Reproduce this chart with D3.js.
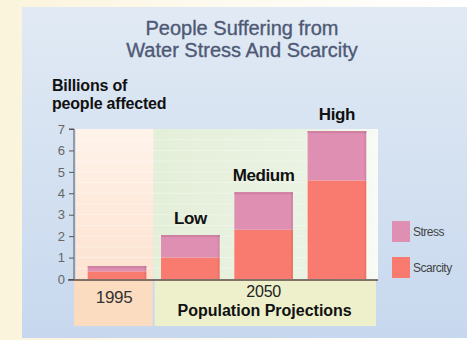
<!DOCTYPE html>
<html><head><meta charset="utf-8">
<script src="https://cdn.jsdelivr.net/npm/d3@7"></script>
<style>
html,body{margin:0;padding:0;background:#fdfaf0;}
svg{display:block;font-family:"Liberation Sans",Arial,sans-serif;}
</style></head>
<body>
<svg id="c" width="467" height="340"></svg>
<script>
const categories = ["1995", "Low", "Medium", "High"];
const scarcity = [0.35, 1.0, 2.3, 4.6];
const stress = [0.25, 1.05, 1.75, 2.3];
const barLabels = ["", "Low", "Medium", "High"];
const yTicks = [0, 1, 2, 3, 4, 5, 6, 7];
const seriesNames = ["Stress", "Scarcity"];
const titleLines = ["People Suffering from", "Water Stress And Scarcity"];
const yTitleLines = ["Billions of", "people affected"];

(function(){
const svg = d3.select("#c");
const defs = svg.append("defs");

function vgrad(id, stops) {
  const g = defs.append("linearGradient").attr("id", id).attr("x1", 0).attr("y1", 0).attr("x2", 0).attr("y2", 1);
  stops.forEach(s => g.append("stop").attr("offset", s[0]).attr("stop-color", s[1]));
}
function hgrad(id, stops) {
  const g = defs.append("linearGradient").attr("id", id).attr("x1", 0).attr("y1", 0).attr("x2", 1).attr("y2", 0);
  stops.forEach(s => g.append("stop").attr("offset", s[0]).attr("stop-color", s[1]));
}
hgrad("page", [[0, "#fbf4dc"], [0.5, "#fdfaf0"], [1, "#ffffff"]]);
vgrad("panel", [[0, "#e1eaf4"], [1, "#c7d8ee"]]);
vgrad("peach", [[0, "#fff3ea"], [1, "#fde2d0"]]);
hgrad("green", [[0, "#e4efd9"], [0.75, "#ebf3e4"], [1, "#f8fbf6"]]);

svg.append("rect").attr("width", 467).attr("height", 340).attr("fill", "url(#page)");
svg.append("rect").attr("x", 22).attr("y", 7).attr("width", 445).attr("height", 331).attr("fill", "url(#panel)");

const pLeft = 76, pRight = 378, pTop = 129, pBottom = 279;
const x = d3.scaleBand().domain(categories).range([pLeft, pRight]).paddingInner(0.2).paddingOuter(0.16);
const y = d3.scaleLinear().domain([0, 7]).range([pBottom, pTop]);

const split = x("Low") - x.step() * x.paddingInner() / 2;

svg.append("rect").attr("x", pLeft).attr("y", pTop).attr("width", split - pLeft).attr("height", pBottom - pTop + 1).attr("fill", "url(#peach)");
svg.append("rect").attr("x", split).attr("y", pTop).attr("width", pRight - split).attr("height", pBottom - pTop + 1).attr("fill", "url(#green)");
svg.append("rect").attr("x", 74).attr("y", 280).attr("width", split - 1 - 74).attr("height", 46).attr("fill", "#fcdcc0");
svg.append("rect").attr("x", split + 1).attr("y", 280).attr("width", 376 - split - 1).attr("height", 46).attr("fill", "#eef0cc");

svg.append("g").selectAll("line").data(d3.range(0.5, 7, 0.5)).join("line")
  .attr("x1", pLeft).attr("x2", pRight).attr("y1", d => y(d)).attr("y2", d => y(d))
  .attr("stroke", "#ffffff").attr("stroke-opacity", 0.35).attr("stroke-width", 1);

const stacked = categories.map((c, i) => ({c, s0: 0, s1: scarcity[i], t0: scarcity[i], t1: scarcity[i] + stress[i]}));
const colorStress = "#df8fb1", colorScar = "#f97b6f";
const bars = svg.append("g");
bars.selectAll(".scar").data(stacked).join("rect")
  .attr("x", d => x(d.c)).attr("width", x.bandwidth())
  .attr("y", d => y(d.s1)).attr("height", d => y(d.s0) - y(d.s1)).attr("fill", colorScar);
bars.selectAll(".str").data(stacked).join("rect")
  .attr("x", d => x(d.c)).attr("width", x.bandwidth())
  .attr("y", d => y(d.t1)).attr("height", d => y(d.t0) - y(d.t1)).attr("fill", colorStress);
bars.selectAll(".edge").data(stacked).join("rect")
  .attr("x", d => x(d.c)).attr("width", x.bandwidth())
  .attr("y", d => y(d.t1)).attr("height", 2).attr("fill", "#cf7fa2");
bars.selectAll(".redge").data(stacked).join("rect")
  .attr("x", d => x(d.c) + x.bandwidth() - 2).attr("width", 2)
  .attr("y", d => y(d.t1)).attr("height", d => y(0) - y(d.t1)).attr("fill", "#000").attr("opacity", 0.06);

svg.append("g").selectAll("text").data(stacked).join("text")
  .attr("x", d => x(d.c) + x.bandwidth() / 2).attr("y", d => y(d.t1) - 11)
  .attr("text-anchor", "middle").attr("font-weight", "bold").attr("font-size", 17)
  .attr("letter-spacing", -0.4).attr("fill", "#111")
  .text((d, i) => barLabels[i]);

const yAxis = svg.append("g").attr("transform", "translate(74,0)")
  .call(d3.axisLeft(y).tickValues(yTicks).tickSize(5).tickPadding(4).tickFormat(d3.format("d")));
yAxis.select(".domain").attr("stroke", "#555").attr("d", `M-5,${y(7)}H0V${y(0)}`);
yAxis.selectAll(".tick line").attr("stroke", "#555");
yAxis.selectAll(".tick text").attr("font-size", 13).attr("fill", "#666").attr("font-family", "Liberation Sans, Arial, sans-serif");

svg.append("line").attr("x1", 68).attr("x2", pRight).attr("y1", 280).attr("y2", 280).attr("stroke", "#5a4a44").attr("stroke-width", 1.3);

svg.append("text").attr("x", x("1995") + x.bandwidth() / 2 - 3).attr("y", 303).attr("text-anchor", "middle")
  .attr("font-size", 17).attr("fill", "#333").attr("letter-spacing", -0.3).text(categories[0]);
const mid2050 = (x("Low") + x("High") + x.bandwidth()) / 2;
svg.append("text").attr("x", mid2050).attr("y", 297).attr("text-anchor", "middle")
  .attr("font-size", 16).attr("fill", "#222").attr("letter-spacing", -0.2).text("2050");
svg.append("text").attr("x", mid2050 + 1).attr("y", 316).attr("text-anchor", "middle")
  .attr("font-size", 16).attr("font-weight", "bold").attr("fill", "#111").attr("letter-spacing", 0).text("Population Projections");

svg.append("g").selectAll("text").data(titleLines).join("text")
  .attr("x", 242).attr("y", (d, i) => 35 + i * 22).attr("text-anchor", "middle")
  .attr("font-size", 20).attr("fill", "#4e5975").attr("stroke", "#4e5975").attr("stroke-width", 0.35)
  .text(d => d);

svg.append("g").selectAll("text").data(yTitleLines).join("text")
  .attr("x", 52).attr("y", (d, i) => 91 + i * 18)
  .attr("font-size", 16).attr("font-weight", "bold").attr("fill", "#111").attr("letter-spacing", -0.2)
  .text(d => d);

const colors = [colorStress, colorScar];
const lg = svg.append("g").selectAll("g").data(seriesNames).join("g")
  .attr("transform", (d, i) => `translate(392,${221 + i * 36})`);
lg.append("rect").attr("width", 18).attr("height", 21).attr("fill", (d, i) => colors[i]);
lg.append("text").attr("x", 21).attr("y", 15).attr("font-size", 12).attr("fill", "#444")
  .attr("letter-spacing", -0.5).text(d => d);
})();
</script>
</body></html>
